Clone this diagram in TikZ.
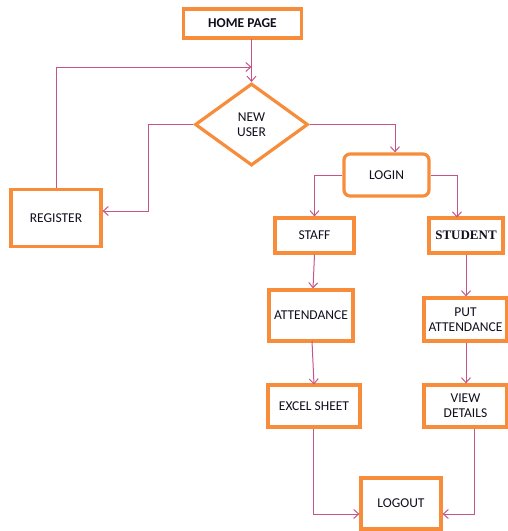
\documentclass[tikz,border=0pt]{standalone}
\usepackage{fontspec}
\setmainfont{Carlito}
\newfontfamily\serifbold{Liberation Serif}
\usetikzlibrary{shapes.geometric,arrows.meta}
\definecolor{boxorange}{RGB}{247,140,58}
\definecolor{linkpink}{RGB}{198,84,134}
\definecolor{txt}{RGB}{15,15,30}
\begin{document}
\begin{tikzpicture}[x=1pt,y=-1pt,
  box/.style={draw=boxorange,line width=3.2pt,fill=white,text=txt,font=\fontsize{13.5}{15}\selectfont,align=center,inner sep=0pt},
  link/.style={draw=linkpink,line width=1pt,-{Straight Barb[length=5pt,width=9pt,line width=1pt]}}]
\useasboundingbox (0,0) rectangle (508,531);
% nodes
\node[box,minimum width=118pt,minimum height=29pt,font=\bfseries\fontsize{13.5}{15}\selectfont] (home) at (242.5,23.5) {HOME PAGE};
\node[box,diamond,aspect=1.38,minimum width=113pt,minimum height=82pt,text width=40pt] (new) at (251.5,124.5) {NEW\\USER};
\node[box,minimum width=90pt,minimum height=57pt] (reg) at (56,218) {REGISTER};
\node[box,rounded corners=6pt,minimum width=85pt,minimum height=42pt] (login) at (386.5,175) {LOGIN};
\node[box,minimum width=79pt,minimum height=35pt] (staff) at (314.5,235.5) {STAFF};
\node[box,minimum width=74pt,minimum height=35pt,font=\serifbold\bfseries\fontsize{13}{15}\selectfont] (student) at (466,235.5) {STUDENT};
\node[box,minimum width=84pt,minimum height=51pt] (att) at (311,315.5) {ATTENDANCE};
\node[box,minimum width=83pt,minimum height=43pt] (put) at (465.5,319.5) {PUT\\ATTENDANCE};
\node[box,minimum width=92pt,minimum height=42pt] (excel) at (314,406) {EXCEL SHEET};
\node[box,minimum width=83pt,minimum height=42pt] (view) at (465.5,406) {VIEW\\DETAILS};
\node[box,minimum width=80pt,minimum height=51pt] (logout) at (401,503.5) {LOGOUT};
% coordinates
\coordinate (hb) at (251.5,39);
\coordinate (loop) at (251.5,67);
% connectors
\draw[link] (hb) -- (new.north);
\draw[link] (reg.north) |- (loop);
\draw[link] (new.west) -| (148,211) -- (reg.east |- 0,211);
\draw[link] (new.east) -| (login.north -| 395,0);
\draw[link] (login.west) -| (staff.north);
\draw[link] (login.east) -| (457,217.5);
\draw[link] (staff.south) -- (att.north -| 313,0);
\draw[link] (student.south) -- (put.north -| 466,0);
\draw[link] (312,341) -- (314,384.5);
\draw[link] (put.south -| 466,0) -- (view.north -| 466,0);
\draw[link] (excel.south -| 313,0) |- (logout.west |- 0,514);
\draw[link] (view.south -| 474,0) |- (logout.east |- 0,514);
\end{tikzpicture}
\end{document}
